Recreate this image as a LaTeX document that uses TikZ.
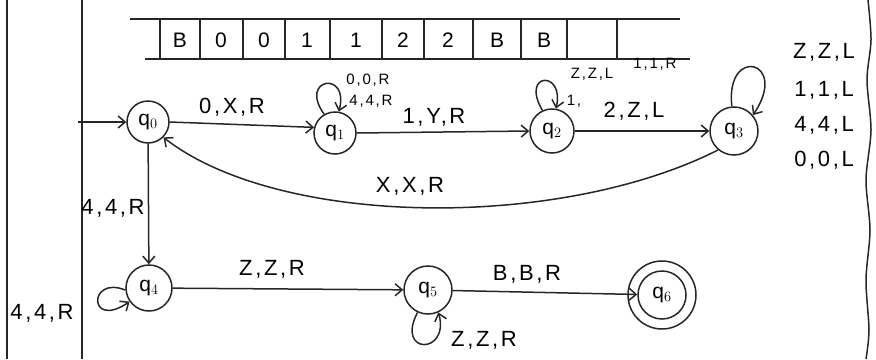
\documentclass[tikz,border=0pt]{standalone}
\usepackage{fontspec}
\setmainfont{Liberation Sans}[LetterSpace=12]
\usetikzlibrary{arrows.meta}
\tikzset{
  ink/.style={draw=black!85, line width=1.5pt},
  st/.style={ink, circle, inner sep=0pt, font=\fontsize{21}{21}\selectfont},
  lbl/.style={font=\fontsize{22}{22}\selectfont, inner sep=1pt},
  sml/.style={font=\fontsize{15}{15}\selectfont, inner sep=0.5pt},
  cell/.style={font=\fontsize{21}{21}\selectfont, inner sep=0pt},
  tr/.style={ink, -{Straight Barb[length=7pt,width=12pt]}}
}
\newcommand{\qs}[1]{q$_{#1}$}
\begin{document}
\begin{tikzpicture}[x=1pt,y=-1pt]
\useasboundingbox (0,0) rectangle (876,359);
% frame lines
\draw[ink] (7,0) -- (7,359);
\draw[ink] (82,0) -- (82,359);
\draw[ink] plot[smooth] coordinates {(868,0) (871,40) (867,80) (871,130) (866,180) (870,230) (866,280) (869,330) (866,359)};
% tape
\draw[ink] (130,19) -- (680,19);
\draw[ink] (145,59) -- (690,59);
\foreach \x in {160,200,243,285,330,382,424,473,521,567,617}
  \draw[ink] (\x,19) -- (\x,59);
\foreach \x/\s [count=\i] in {180/B,221/0,264/0,307/1,356/1,403/2,448/2,497/B,544/B}
  \node[cell] (c\i) at (\x,40) {\s};
% states
\node[st, minimum size=42pt] (q0) at (148,122) {\qs{0}};
\node[st, minimum size=42pt] (q1) at (335,133) {\qs{1}};
\node[st, minimum size=44pt] (q2) at (552,131) {\qs{2}};
\node[st, minimum size=48pt] (q3) at (734,131) {\qs{3}};
\node[st, minimum size=46pt] (q4) at (149,288) {\qs{4}};
\node[st, minimum size=48pt] (q5) at (428,290) {\qs{5}};
\node[st, minimum size=48pt] (q6) at (662,295) {\qs{6}};
\draw[ink] (q6.center) circle[radius=34pt];
% start
\coordinate (s) at (78,122);
\draw[tr] (s) -- (q0);
% transitions
\draw[tr] (q0.east) -- (q1.165);
\node[lbl] (l01) at (232,107) {0,X,R};
\draw[tr] (q1.east) -- (q2.west);
\node[lbl] (l12) at (434,117) {1,Y,R};
\draw[tr] (q2.east) -- (q3.west);
\node[lbl] (l23) at (634,111) {2,Z,L};
\node[sml] (l23b) at (574,101) {1,};
\draw[tr] (q3.230) .. controls (560,230) and (280,228) .. (q0.-45);
\node[lbl] (l30) at (410,186) {X,X,R};
\draw[tr] (q0) -- (q4);
\node[lbl] (l04) at (113,208) {4,4,R};
\draw[tr] (q4) -- (q5);
\node[lbl] (l45) at (272,269) {Z,Z,R};
\draw[tr] (q5) -- (q6);
\node[lbl] (l56) at (527,274) {B,B,R};
% loops
\draw[tr] (q1.120) .. controls (298,78) and (350,70) .. (q1.80);
\node[sml] (l11a) at (368,80) {0,0,R};
\node[sml] (l11b) at (371,101) {4,4,R};
\draw[tr] (q2.115) .. controls (520,72) and (565,70) .. (q2.80);
\node[sml] (l22a) at (592,74) {Z,Z,L};
\node[sml] (l22b) at (655,64) {1,1,R};
\draw[tr] (q3.95) .. controls (725,45) and (790,60) .. (q3.40);
\node[lbl] (l33a) at (824,52) {Z,Z,L};
\node[lbl] (l33b) at (824,90) {1,1,L};
\node[lbl] (l33c) at (824,125) {4,4,L};
\node[lbl] (l33d) at (824,160) {0,0,L};
\draw[tr] (q4.185) .. controls (88,275) and (88,330) .. (q4.215);
\node[lbl] (l44) at (42,313) {4,4,R};
\draw[tr] (q5.245) .. controls (395,355) and (450,355) .. (q5.295);
\node[lbl] (l55) at (484,340) {Z,Z,R};
\end{tikzpicture}
\end{document}
